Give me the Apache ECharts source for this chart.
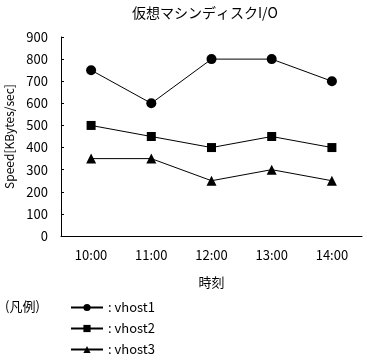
<!DOCTYPE html>
<html><head><meta charset="utf-8">
<script src="https://cdn.jsdelivr.net/npm/echarts@6/dist/echarts.min.js"></script>
<style>html,body{margin:0;padding:0;background:#fff}#c{width:367px;height:360px}</style>
</head><body><div id="c"></div>
<script>
const categories = ['10:00','11:00','12:00','13:00','14:00'];
const vhost1 = [750, 600, 800, 800, 700];
const vhost2 = [500, 450, 400, 450, 400];
const vhost3 = [350, 350, 250, 300, 250];
const seriesNames = ['vhost1','vhost2','vhost3'];
const FONT = '"Noto Sans CJK JP", sans-serif';
const chart = echarts.init(document.getElementById('c'), null, {renderer:'canvas'});
function mk(name, data, symbol, size){
  return {name, type:'line', data, symbol, symbolSize:size, showAllSymbol:true,
    lineStyle:{color:'#000', width:1}, itemStyle:{color:'#000', borderWidth:0},
    emphasis:{disabled:true}, animation:false};
}
chart.setOption({
  animation:false,
  textStyle:{fontFamily:FONT, color:'#000'},
  title:{text:'仮想マシンディスクI/O', left:127, top:1,
    textStyle:{fontFamily:FONT, fontSize:14, fontWeight:'normal', color:'#000'}},
  grid:{left:61, right:5, top:37, bottom:124, containLabel:false, outerBoundsMode:'none'},
  xAxis:{type:'category', data:categories, boundaryGap:true,
    axisLine:{lineStyle:{color:'#000', width:1}},
    axisTick:{inside:true, length:3, lineStyle:{color:'#000'}},
    axisLabel:{color:'#000', fontFamily:FONT, fontSize:13, margin:13},
    name:'時刻', nameLocation:'middle', nameGap:40,
    nameTextStyle:{color:'#000', fontFamily:FONT, fontSize:13}},
  yAxis:{type:'value', min:0, max:900, interval:100,
    axisLine:{show:true, lineStyle:{color:'#000', width:1}},
    axisTick:{show:true, inside:true, length:3, lineStyle:{color:'#000'}},
    splitLine:{show:false},
    axisLabel:{color:'#000', fontFamily:FONT, fontSize:13, margin:13},
    name:'Speed[KBytes/sec]', nameLocation:'middle', nameGap:44, nameRotate:90,
    nameTextStyle:{color:'#000', fontFamily:FONT, fontSize:12}},
  legend:{orient:'vertical', left:70, top:300, height:60, padding:0,
    itemWidth:32, itemHeight:9, itemGap:6,
    data:seriesNames, formatter:': {name}', selectedMode:false,
    textStyle:{color:'#000', fontFamily:FONT, fontSize:13, lineHeight:15}},
  graphic:[{type:'text', left:5, top:300,
    style:{text:'(凡例)', fontFamily:FONT, fontSize:13, fill:'#000'}}],
  series:[
    mk(seriesNames[0], vhost1, 'circle', 10),
    mk(seriesNames[1], vhost2, 'rect', 9),
    mk(seriesNames[2], vhost3, 'triangle', 10)
  ]
});
</script></body></html>
